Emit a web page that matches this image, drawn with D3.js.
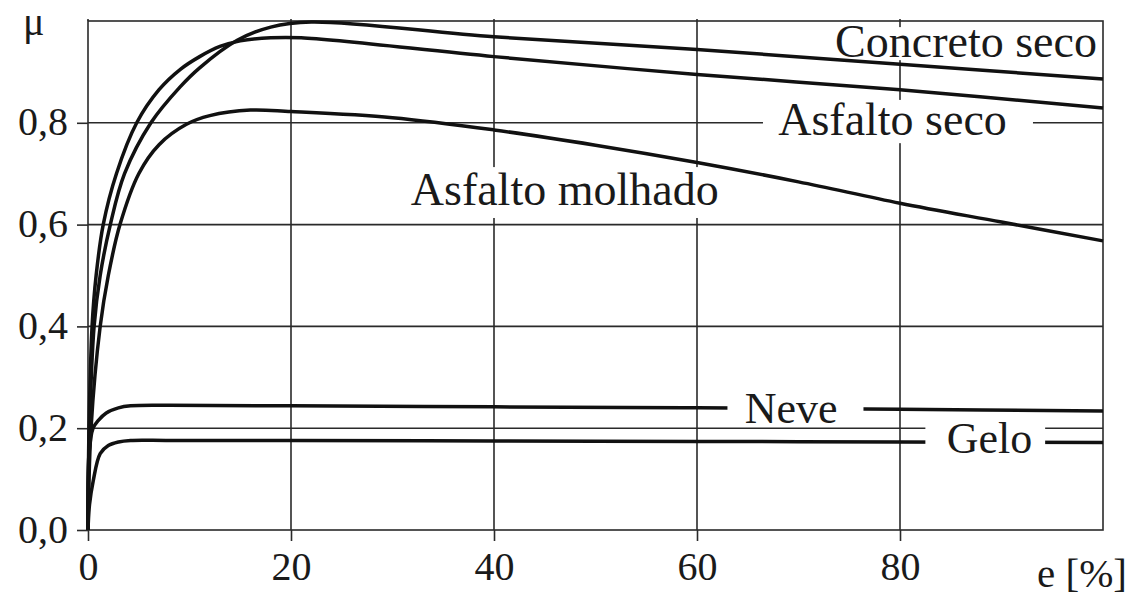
<!DOCTYPE html>
<html>
<head>
<meta charset="utf-8">
<script src="https://cdn.jsdelivr.net/npm/d3@7"></script>
<style>
  html, body { margin: 0; padding: 0; background: #fff; }
  svg { display: block; }
  svg text { font-family: "Liberation Serif", "DejaVu Serif", "Noto Serif", serif; fill: #1a1a1a; }
</style>
</head>
<body>
<svg id="chart" width="1136" height="597"></svg>
<script>
// ---- data ----
const xTicks = [0, 20, 40, 60, 80];
const yTicks = [0.0, 0.2, 0.4, 0.6, 0.8];
const xGrid = [20, 40, 60, 80];
const yGrid = [0.2, 0.4, 0.6, 0.8];

const concretoE = [0, 0.15, 0.6, 1.2, 2.2, 3.6, 6.2, 9.1, 11, 14.7, 18, 22, 40, 60, 80, 100];
const concretoMu = [0, 0.2, 0.4, 0.5, 0.6, 0.7, 0.8, 0.871, 0.908, 0.962, 0.988, 0.998, 0.969, 0.944, 0.915, 0.886];

const asfSecoE = [0, 0.1, 0.4, 0.8, 1.5, 2.8, 4.8, 7, 9.1, 11, 13, 15, 18, 21, 40, 60, 80, 100];
const asfSecoMu = [0, 0.2, 0.4, 0.5, 0.6, 0.7, 0.8, 0.865, 0.905, 0.93, 0.95, 0.961, 0.967, 0.967, 0.93, 0.895, 0.865, 0.829];

const molhadoE = [0, 0.3, 1.2, 2.0, 3.15, 5, 7, 9.7, 12, 16, 20, 30, 40, 50, 60, 70, 80, 90, 100];
const molhadoMu = [0, 0.2, 0.4, 0.5, 0.6, 0.7, 0.757, 0.797, 0.814, 0.825, 0.822, 0.81, 0.786, 0.756, 0.722, 0.684, 0.642, 0.605, 0.568];

const neveE = [0, 0.1, 0.5, 1.0, 1.8, 3, 4.2, 8, 20, 40, 60, 80, 100];
const neveMu = [0, 0.15, 0.2, 0.215, 0.23, 0.24, 0.244, 0.245, 0.244, 0.242, 0.240, 0.237, 0.234];

const geloE = [0, 0.15, 0.5, 1.2, 2, 3, 4.2, 8, 20, 40, 60, 80, 100];
const geloMu = [0, 0.05, 0.095, 0.15, 0.166, 0.173, 0.176, 0.176, 0.176, 0.175, 0.174, 0.173, 0.172];

const seriesNames = ["Concreto seco", "Asfalto seco", "Asfalto molhado", "Neve", "Gelo"];

// ---- layout ----
const FONT = '"Liberation Serif", "DejaVu Serif", "Noto Serif", serif';
const svg = d3.select("#chart");
const W = 1136, H = 597;
const margin = { left: 88, right: 33, top: 21, bottom: 67 };
const x = d3.scaleLinear().domain([0, 100]).range([margin.left, W - margin.right]);
const y = d3.scaleLinear().domain([0, 1]).range([H - margin.bottom, margin.top]);

const gridColor = "#2a2a2a";
const gridW = 1.6;

svg.append("rect").attr("width", W).attr("height", H).attr("fill", "#fff");

// grid
const grid = svg.append("g");
grid.selectAll("line.vx").data(xGrid).join("line")
  .attr("x1", d => x(d)).attr("x2", d => x(d))
  .attr("y1", y(1) - 2).attr("y2", y(0))
  .attr("stroke", gridColor).attr("stroke-width", gridW);
grid.selectAll("line.hy").data(yGrid).join("line")
  .attr("x1", x(0)).attr("x2", x(100))
  .attr("y1", d => y(d)).attr("y2", d => y(d))
  .attr("stroke", gridColor).attr("stroke-width", gridW);

// label boxes (data coordinates) masking gridlines / curves: [name, e0, e1, muTop, muBottom]
const boxesBehind = [
  ["Concreto seco", 78, 99.6, 0.988, 0.923],
  ["Asfalto seco", 66.5, 93.1, 0.845, 0.760],
  ["Asfalto molhado", 30.7, 63.7, 0.713, 0.613]
];
const boxesFront = [
  ["Neve", 63.0, 76.4, 0.268, 0.205],
  ["Gelo", 82.5, 94.3, 0.222, 0.141]
];
function drawBoxes(arr) {
  svg.append("g").selectAll("rect").data(arr).join("rect")
    .attr("x", d => x(d[1])).attr("width", d => x(d[2]) - x(d[1]))
    .attr("y", d => y(d[3])).attr("height", d => y(d[4]) - y(d[3]))
    .attr("fill", "#fff");
}
drawBoxes(boxesBehind);

// frame
svg.append("rect")
  .attr("x", x(0)).attr("y", y(1))
  .attr("width", x(100) - x(0)).attr("height", y(0) - y(1))
  .attr("fill", "none").attr("stroke", gridColor).attr("stroke-width", gridW);
svg.append("line").attr("x1", x(0)).attr("x2", x(0)).attr("y1", y(1) - 2).attr("y2", y(1))
  .attr("stroke", gridColor).attr("stroke-width", gridW);

// axes
const yAxis = d3.axisLeft(y).tickValues(yTicks).tickSize(11).tickPadding(9)
  .tickFormat(d => d3.format(".1f")(d).replace(".", ","));
const xAxis = d3.axisBottom(x).tickValues(xTicks).tickSize(11).tickPadding(10)
  .tickFormat(d3.format("d"));

const gy = svg.append("g").attr("transform", `translate(${x(0)},0)`).call(yAxis);
const gx = svg.append("g").attr("transform", `translate(0,${y(0)})`).call(xAxis);
[gy, gx].forEach(g => {
  g.attr("font-family", FONT).attr("font-size", 40);
  g.select(".domain").remove();
  g.selectAll(".tick line").attr("stroke", gridColor).attr("stroke-width", gridW);
  g.selectAll(".tick text").style("font-family", FONT).attr("font-size", 40).attr("fill", "#1a1a1a");
});
gy.selectAll(".tick text").attr("dy", "0.3em");
gx.selectAll(".tick text").attr("dy", "0.72em");

// curves
const line = d3.line().x(d => x(d[0])).y(d => y(d[1])).curve(d3.curveCatmullRom.alpha(0.5));
const curves = [
  [concretoE, concretoMu],
  [asfSecoE, asfSecoMu],
  [molhadoE, molhadoMu],
  [neveE, neveMu],
  [geloE, geloMu]
];
svg.append("g").selectAll("path").data(curves).join("path")
  .attr("d", d => line(d[0].map((e, i) => [e, d[1][i]])))
  .attr("fill", "none").attr("stroke", "#111").attr("stroke-width", 3.5)
  .attr("stroke-linejoin", "round").attr("stroke-linecap", "butt");

drawBoxes(boxesFront);

// curve labels: [name, e, mu(baseline), anchor, size]
const labels = [
  [seriesNames[0], 99.4, 0.929, "end", 46],
  [seriesNames[1], 68.0, 0.776, "start", 46],
  [seriesNames[2], 31.8, 0.6385, "start", 46],
  [seriesNames[3], 64.7, 0.210, "start", 44],
  [seriesNames[4], 84.6, 0.151, "start", 44]
];
svg.append("g").selectAll("text").data(labels).join("text")
  .attr("x", d => x(d[1])).attr("y", d => y(d[2]))
  .attr("text-anchor", d => d[3]).attr("font-size", d => d[4])
  .style("font-family", FONT)
  .text(d => d[0]);

// axis titles
svg.append("text").attr("x", 23).attr("y", 35).attr("font-size", 40).style("font-family", FONT).text("μ");
svg.append("text").attr("x", 1127).attr("y", 587).attr("text-anchor", "end")
  .attr("font-size", 41).style("font-family", FONT).text("e [%]");
</script>
</body>
</html>
